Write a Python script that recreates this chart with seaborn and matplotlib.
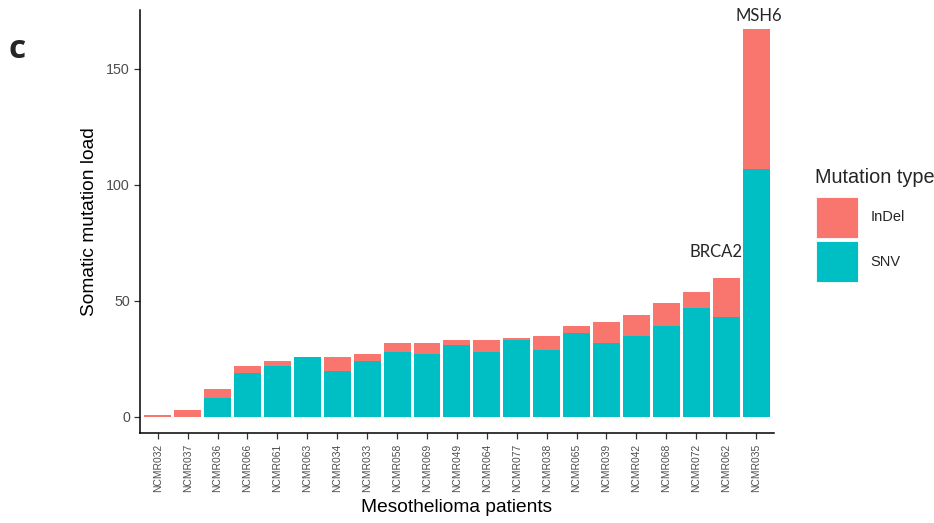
import matplotlib
matplotlib.use("Agg")
import matplotlib.pyplot as plt
from matplotlib.patches import Patch, Rectangle
from matplotlib.legend_handler import HandlerPatch
import seaborn as sns
import pandas as pd

# Patients ordered by total somatic mutation load
patients = ["NCMR032", "NCMR037", "NCMR036", "NCMR066", "NCMR061", "NCMR063",
            "NCMR034", "NCMR033", "NCMR058", "NCMR069", "NCMR049", "NCMR064",
            "NCMR077", "NCMR038", "NCMR065", "NCMR039", "NCMR042", "NCMR068",
            "NCMR072", "NCMR062", "NCMR035"]
snv = [0, 0, 8, 19, 22, 26, 20, 24, 28, 27, 31, 28, 33, 29, 36, 32, 35, 39, 47, 43, 107]
indel = [1, 3, 4, 3, 2, 0, 6, 3, 4, 5, 2, 5, 1, 6, 3, 9, 9, 10, 7, 17, 60]
gene_labels = {"NCMR062": "BRCA2", "NCMR035": "MSH6"}

df = pd.DataFrame({"patient": patients, "SNV": snv, "InDel": indel})
df["total"] = df["SNV"] + df["InDel"]

col_indel = "#F8766D"
col_snv = "#00BFC4"

sns.set_theme(style="white")
plt.rcParams["font.family"] = ["Liberation Sans", "DejaVu Sans"]

fig = plt.figure(figsize=(9.34, 5.23), dpi=100)
ax = fig.add_axes([139.8 / 934, 1 - 433 / 523, (774 - 139.8) / 934, (433 - 10) / 523])

# stacked bars: full height in InDel colour, SNV drawn over the lower part
sns.barplot(data=df, x="patient", y="total", color=col_indel, saturation=1,
            width=0.9, ax=ax, edgecolor="none")
sns.barplot(data=df, x="patient", y="SNV", color=col_snv, saturation=1,
            width=0.9, ax=ax, edgecolor="none")

ax.set_xlim(-0.6, len(patients) - 0.4)
ax.set_ylim(-6.9, 175.4)
ax.set_yticks([0, 50, 100, 150])

for s in ["top", "right"]:
    ax.spines[s].set_visible(False)
for s in ["left", "bottom"]:
    ax.spines[s].set_color("black")
    ax.spines[s].set_linewidth(1.1)

ax.tick_params(axis="both", which="both", direction="out", length=4, width=0.9,
               color="#333333", left=True, bottom=True)
ax.tick_params(axis="y", labelsize=10.3, labelcolor="#4D4D4D", pad=3)
ax.tick_params(axis="x", labelsize=7.4, labelcolor="#4D4D4D", pad=4, labelrotation=90)

ax.set_xlabel("Mesothelioma patients", fontsize=13.8, color="black", labelpad=5)
ax.set_ylabel("Somatic mutation load", fontsize=13.8, color="black", labelpad=6)

# gene annotations above the bars
for name, gene in gene_labels.items():
    i = patients.index(name)
    tot = df.loc[i, "total"]
    if gene == "BRCA2":
        ax.text(i - 0.35, tot + 7.5, gene, ha="center", va="bottom",
                fontsize=12, family=["Lato", "DejaVu Sans"], clip_on=False)
    else:
        ax.text(i + 0.1, tot + 2.5, gene, ha="center", va="bottom",
                fontsize=12, family=["Lato", "DejaVu Sans"], clip_on=False)

# panel letter
fig.text(8 / 934, 1 - 58 / 523, "c", fontsize=24, fontweight="bold",
         family=["Open Sans", "DejaVu Sans"], ha="left", va="baseline")


def square_key(legend, orig_handle, xdescent, ydescent, width, height, fontsize):
    return Rectangle((-xdescent, -ydescent), width, height)


handles = [Patch(facecolor=col_indel, edgecolor="white", linewidth=0.6, label="InDel"),
           Patch(facecolor=col_snv, edgecolor="white", linewidth=0.6, label="SNV")]
fig.text(815 / 934, 1 - 183 / 523, "Mutation type", fontsize=14.3,
         ha="left", va="baseline")
fig.legend(handles=handles, loc="upper left",
           bbox_to_anchor=(816 / 934, 1 - 196.5 / 523), frameon=False,
           fontsize=10.5, handlelength=2.86, handleheight=4.02,
           handletextpad=0.86, labelspacing=0.18,
           borderpad=0, borderaxespad=0,
           handler_map={Patch: HandlerPatch(patch_func=square_key)})

fig.savefig("out.png", dpi=100)
